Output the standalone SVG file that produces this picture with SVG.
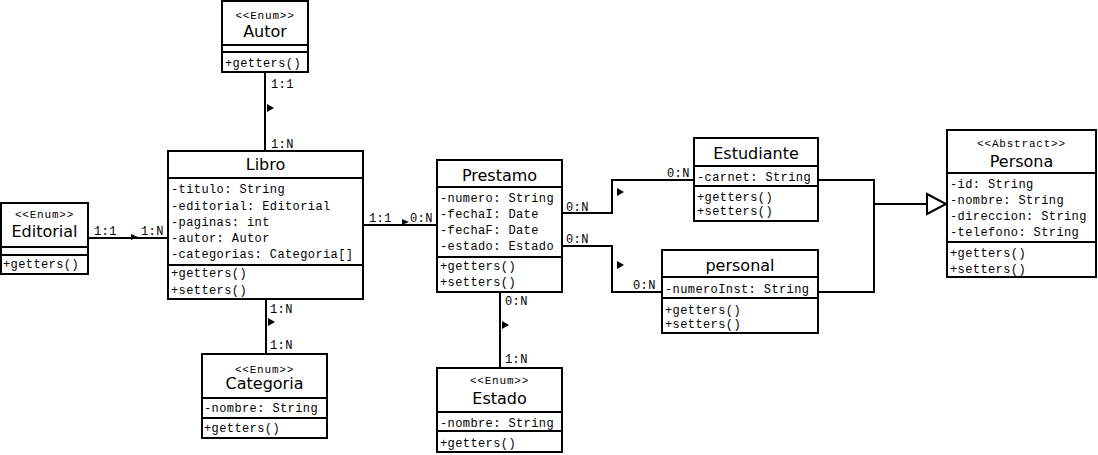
<svg xmlns="http://www.w3.org/2000/svg" width="1098" height="455" viewBox="0 0 1098 455">
<style>
.box{fill:#fff;stroke:#000;stroke-width:2}
.div{stroke:#000;stroke-width:2}
.m{font-family:"Liberation Mono","DejaVu Sans Mono",monospace;font-size:12px;letter-spacing:0.4px;fill:#000}
.st{font-family:"Liberation Mono","DejaVu Sans Mono",monospace;font-size:11px;letter-spacing:0.8px;fill:#000;text-anchor:middle}
.n{font-family:"DejaVu Sans",sans-serif;font-size:16px;fill:#000;text-anchor:middle}
.nl{font-family:"DejaVu Sans",sans-serif;font-size:16px;fill:#000;text-anchor:middle}
.c{fill:none;stroke:#000;stroke-width:2}
.a{fill:#000}
</style>
<g id="connectors">
<path class="c" d="M265,72 V151"/>
<path class="c" d="M88,238 H168"/>
<path class="c" d="M266,299 V354"/>
<path class="c" d="M363,225 H437"/>
<path class="c" d="M500,292 V368"/>
<path class="c" d="M562,213 H612 V180 H694"/>
<path class="c" d="M562,246 H612 V292 H662"/>
<path class="c" d="M818,180 H874 V292 H818"/>
<path class="c" d="M874,204 H927"/>
<polygon points="927,194 946,204 927,214" fill="#fff" stroke="#000" stroke-width="2"/>
<polygon class="a" points="267,104 274,108 267,112"/>
<polygon class="a" points="131,234 138,237 131,240"/>
<polygon class="a" points="268,318 275,322 268,326"/>
<polygon class="a" points="402,219 409,222 402,225"/>
<polygon class="a" points="502,321 509,325 502,329"/>
<polygon class="a" points="617,188 624,192 617,196"/>
<polygon class="a" points="617,261 624,265 617,269"/>
<text class="m" x="271" y="88">1:1</text>
<text class="m" x="271" y="148">1:N</text>
<text class="m" x="94" y="235">1:1</text>
<text class="m" x="141" y="235">1:N</text>
<text class="m" x="270" y="313">1:N</text>
<text class="m" x="270" y="349">1:N</text>
<text class="m" x="369" y="222">1:1</text>
<text class="m" x="410" y="222">0:N</text>
<text class="m" x="505" y="305">0:N</text>
<text class="m" x="505" y="363">1:N</text>
<text class="m" x="566" y="211">0:N</text>
<text class="m" x="667" y="177">0:N</text>
<text class="m" x="566" y="243">0:N</text>
<text class="m" x="633" y="289">0:N</text>
</g>
<g id="Autor">
<rect class="box" x="222" y="1" width="86" height="71"/>
<line class="div" x1="222" y1="45" x2="308" y2="45"/>
<line class="div" x1="222" y1="52" x2="308" y2="52"/>
<text class="st" x="265" y="19">&lt;&lt;Enum&gt;&gt;</text>
<text class="n" x="265" y="37">Autor</text>
<text class="m" x="225" y="67">+getters()</text>
</g>
<g id="Libro">
<rect class="box" x="168" y="151" width="195" height="148"/>
<line class="div" x1="168" y1="178" x2="363" y2="178"/>
<line class="div" x1="168" y1="265" x2="363" y2="265"/>
<text class="n" x="265.5" y="170">Libro</text>
<text class="m" x="171" y="193">-titulo: String</text>
<text class="m" x="171" y="210">-editorial: Editorial</text>
<text class="m" x="171" y="226">-paginas: int</text>
<text class="m" x="171" y="242">-autor: Autor</text>
<text class="m" x="171" y="258">-categorias: Categoria[]</text>
<text class="m" x="171" y="277">+getters()</text>
<text class="m" x="171" y="294">+setters()</text>
</g>
<g id="Editorial">
<rect class="box" x="1" y="203" width="87" height="71"/>
<line class="div" x1="1" y1="247" x2="88" y2="247"/>
<line class="div" x1="1" y1="255" x2="88" y2="255"/>
<text class="st" x="44.5" y="218">&lt;&lt;Enum&gt;&gt;</text>
<text class="n" x="44.5" y="237">Editorial</text>
<text class="m" x="3" y="268">+getters()</text>
</g>
<g id="Categoria">
<rect class="box" x="202" y="354" width="125" height="84"/>
<line class="div" x1="202" y1="398" x2="327" y2="398"/>
<line class="div" x1="202" y1="418" x2="327" y2="418"/>
<text class="st" x="264.5" y="373">&lt;&lt;Enum&gt;&gt;</text>
<text class="n" x="264.5" y="389">Categoria</text>
<text class="m" x="204" y="412">-nombre: String</text>
<text class="m" x="204" y="432">+getters()</text>
</g>
<g id="Prestamo">
<rect class="box" x="437" y="160" width="125" height="132"/>
<line class="div" x1="437" y1="187" x2="562" y2="187"/>
<line class="div" x1="437" y1="257" x2="562" y2="257"/>
<text class="n" x="499.5" y="181">Prestamo</text>
<text class="m" x="440" y="202">-numero: String</text>
<text class="m" x="440" y="218">-fechaI: Date</text>
<text class="m" x="440" y="234">-fechaF: Date</text>
<text class="m" x="440" y="250">-estado: Estado</text>
<text class="m" x="440" y="270">+getters()</text>
<text class="m" x="440" y="286">+setters()</text>
</g>
<g id="Estado">
<rect class="box" x="437" y="368" width="125" height="84"/>
<line class="div" x1="437" y1="412" x2="562" y2="412"/>
<line class="div" x1="437" y1="431" x2="562" y2="431"/>
<text class="st" x="499.5" y="384">&lt;&lt;Enum&gt;&gt;</text>
<text class="n" x="499.5" y="404">Estado</text>
<text class="m" x="440" y="427">-nombre: String</text>
<text class="m" x="440" y="447">+getters()</text>
</g>
<g id="Estudiante">
<rect class="box" x="694" y="138" width="124" height="83"/>
<line class="div" x1="694" y1="166" x2="818" y2="166"/>
<line class="div" x1="694" y1="186" x2="818" y2="186"/>
<text class="n" x="756" y="159">Estudiante</text>
<text class="m" x="697" y="181">-carnet: String</text>
<text class="m" x="697" y="201">+getters()</text>
<text class="m" x="697" y="215">+setters()</text>
</g>
<g id="personal">
<rect class="box" x="662" y="250" width="156" height="83"/>
<line class="div" x1="662" y1="277" x2="818" y2="277"/>
<line class="div" x1="662" y1="298" x2="818" y2="298"/>
<text class="n" x="740" y="271">personal</text>
<text class="m" x="665" y="293">-numeroInst: String</text>
<text class="m" x="665" y="314">+getters()</text>
<text class="m" x="665" y="328">+setters()</text>
</g>
<g id="Persona">
<rect class="box" x="947" y="130" width="149" height="147"/>
<line class="div" x1="947" y1="173" x2="1096" y2="173"/>
<line class="div" x1="947" y1="242" x2="1096" y2="242"/>
<text class="st" x="1021.5" y="147">&lt;&lt;Abstract&gt;&gt;</text>
<text class="nl" x="1021.5" y="167">Persona</text>
<text class="m" x="950" y="188">-id: String</text>
<text class="m" x="950" y="204">-nombre: String</text>
<text class="m" x="950" y="220">-direccion: String</text>
<text class="m" x="950" y="236">-telefono: String</text>
<text class="m" x="950" y="257">+getters()</text>
<text class="m" x="950" y="273">+setters()</text>
</g>
</svg>
